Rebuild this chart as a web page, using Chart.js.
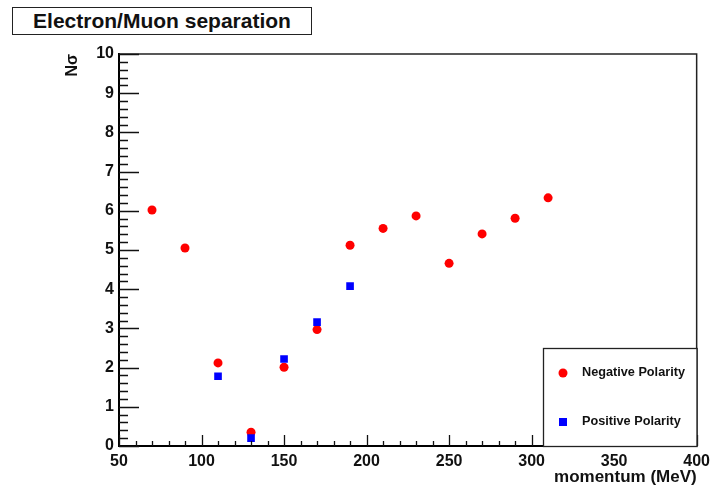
<!DOCTYPE html>
<html>
<head>
<meta charset="utf-8">
<script src="https://cdn.jsdelivr.net/npm/chart.js@4/dist/chart.umd.min.js"></script>
<style>
  html, body { margin: 0; padding: 0; background: #fff; }
  #wrap { position: relative; width: 716px; height: 486px; }
  #c { position: absolute; left: 0; top: 0; }
  #title {
    position: absolute; left: 12px; top: 7px; width: 300px; height: 28px;
    box-sizing: border-box; border: 1.5px solid #222; background: #fff;
    font: bold 21px "Liberation Sans", Arial, sans-serif; color: #111;
    text-align: center; line-height: 25px; white-space: nowrap;
  }
</style>
</head>
<body>
<div id="wrap">
  <canvas id="c" width="716" height="486"></canvas>
  <div id="title">Electron/Muon separation</div>
</div>
<script>
// ---- data ----
const negativeMomentum = [70, 90, 110, 130, 150, 170, 190, 210, 230, 250, 270, 290, 310];
const negativeNsigma   = [6.02, 5.05, 2.12, 0.35, 2.01, 2.97, 5.12, 5.55, 5.87, 4.66, 5.41, 5.81, 6.33];
const positiveMomentum = [110, 130, 150, 170, 190];
const positiveNsigma   = [1.78, 0.20, 2.22, 3.16, 4.08];
const seriesLabels = ['Negative Polarity', 'Positive Polarity'];
const xAxisTitle = 'momentum (MeV)';
const yAxisTitle = 'N\u03C3';
const xMin = 50, xMax = 400, xMajor = 50, xMinor = 10;
const yMin = 0, yMax = 10, yMajor = 1, yMinor = 0.2;

const toPoints = (xs, ys) => xs.map((x, i) => ({ x: x, y: ys[i] }));

const FONT = '"Liberation Sans", Arial, sans-serif';

// ROOT-style frame: inner ticks, top/right frame, legend box
const rootFrame = {
  id: 'rootFrame',
  afterDatasetsDraw(chart) {
    const { ctx, chartArea: a, scales } = chart;
    const xs = scales.x, ys = scales.y;
    ctx.save();
    // frame top/right
    ctx.strokeStyle = '#222';
    ctx.lineWidth = 1.5;
    ctx.beginPath();
    ctx.moveTo(a.left, a.top); ctx.lineTo(a.right, a.top); ctx.lineTo(a.right, a.bottom);
    ctx.stroke();
    // ticks
    ctx.strokeStyle = '#111';
    ctx.lineWidth = 1.3;
    ctx.beginPath();
    const nY = Math.round((yMax - yMin) / yMinor);
    for (let i = 0; i <= nY; i++) {
      const v = yMin + i * yMinor;
      const major = Math.abs(v / yMajor - Math.round(v / yMajor)) < 1e-6;
      const p = Math.round(ys.getPixelForValue(v)) + 0.5;
      ctx.moveTo(a.left, p); ctx.lineTo(a.left + (major ? 20 : 9), p);
    }
    const nX = Math.round((xMax - xMin) / xMinor);
    for (let i = 0; i <= nX; i++) {
      const v = xMin + i * xMinor;
      const major = Math.abs(v / xMajor - Math.round(v / xMajor)) < 1e-6;
      const p = Math.round(xs.getPixelForValue(v)) + 0.5;
      ctx.moveTo(p, a.bottom); ctx.lineTo(p, a.bottom - (major ? 11 : 5));
    }
    ctx.stroke();

    // legend box
    const lx = 543, ly = 348, lw = a.right - lx, lh = a.bottom - ly;
    ctx.fillStyle = '#fff';
    ctx.fillRect(lx, ly, lw, lh);
    ctx.strokeStyle = '#222';
    ctx.lineWidth = 1.3;
    ctx.strokeRect(lx + 0.5, ly + 0.5, lw, lh);
    const rows = [373, 422];
    chart.data.datasets.forEach((ds, i) => {
      const cy = rows[i], cx = 563;
      ctx.fillStyle = ds.backgroundColor;
      if (ds.pointStyle === 'rect') {
        ctx.fillRect(cx - 4, cy - 4, 8, 8);
      } else {
        ctx.beginPath(); ctx.arc(cx, cy, 4.5, 0, Math.PI * 2); ctx.fill();
      }
      ctx.fillStyle = '#111';
      ctx.font = 'bold 12.7px ' + FONT;
      ctx.textAlign = 'left';
      ctx.textBaseline = 'middle';
      ctx.fillText(ds.label, 582, cy - 1);
    });
    ctx.restore();
  }
};

new Chart(document.getElementById('c'), {
  type: 'scatter',
  data: {
    datasets: [
      {
        label: seriesLabels[0],
        data: toPoints(negativeMomentum, negativeNsigma),
        pointStyle: 'circle', pointRadius: 4.5, pointHoverRadius: 4.5,
        backgroundColor: '#ff0000', borderWidth: 0, order: 2
      },
      {
        label: seriesLabels[1],
        data: toPoints(positiveMomentum, positiveNsigma),
        pointStyle: 'rect', pointRadius: 5.4, pointHoverRadius: 5.4,
        backgroundColor: '#0000ff', borderWidth: 0, order: 1
      }
    ]
  },
  options: {
    responsive: false,
    animation: false,
    events: [],
    layout: { padding: { left: 60, top: 54, right: 18, bottom: 0 } },
    plugins: { legend: { display: false }, tooltip: { enabled: false }, title: { display: false } },
    scales: {
      x: {
        type: 'linear', min: xMin, max: xMax,
        afterFit: s => { s.height = 40; },
        grid: { display: false, drawTicks: false },
        border: { display: true, color: '#000', width: 2 },
        ticks: { stepSize: xMajor, padding: 6, color: '#111', maxRotation: 0,
                 font: { family: FONT, size: 16, weight: 'bold' } },
        title: { display: true, text: xAxisTitle, align: 'end', color: '#111',
                 padding: { top: 0, bottom: 0 },
                 font: { family: FONT, size: 17, weight: 'bold', lineHeight: 1.0 } }
      },
      y: {
        type: 'linear', min: yMin, max: yMax,
        afterFit: s => { s.width = 59; },
        grid: { display: false, drawTicks: false },
        border: { display: true, color: '#000', width: 2 },
        ticks: { stepSize: yMajor, padding: 5, color: '#111',
                 font: { family: FONT, size: 16, weight: 'bold' } },
        title: { display: true, text: yAxisTitle, align: 'end', color: '#111',
                 padding: { top: 3, bottom: 0 },
                 font: { family: FONT, size: 16, weight: 'bold' } }
      }
    }
  },
  plugins: [rootFrame]
});
</script>
</body>
</html>
